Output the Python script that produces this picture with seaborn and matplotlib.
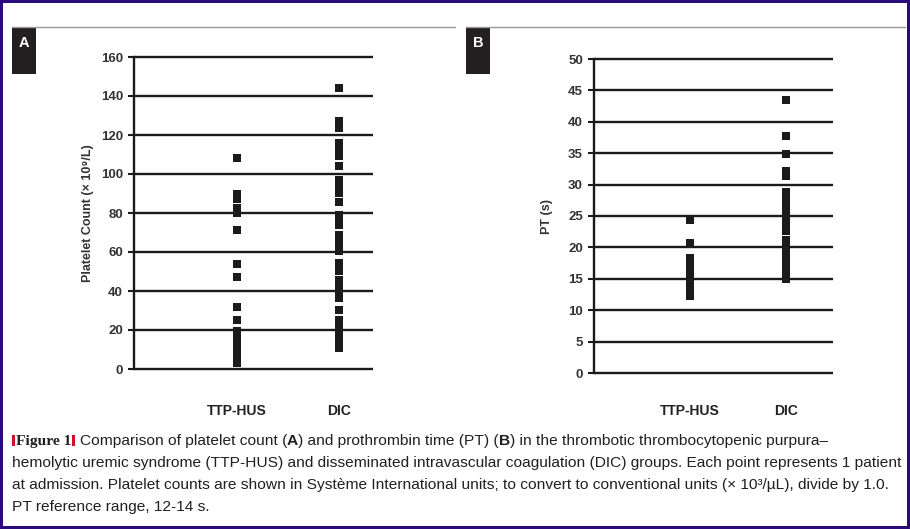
import matplotlib
matplotlib.use("Agg")
import matplotlib.pyplot as plt
from matplotlib.patches import Rectangle
from matplotlib.lines import Line2D
from matplotlib import font_manager
import pandas as pd
import seaborn as sns

# ---------------- data ----------------
groups = ["TTP-HUS", "DIC"]
platelet_ttp = [108, 89.5, 87, 82.5, 80, 71.5, 54, 47, 32, 25,
                19.5, 17, 14, 11, 8, 5, 3]
platelet_dic = [144, 127, 123.5, 115.8, 112.4, 109.1, 104, 96.8, 93.5, 90.2,
                85.5, 79, 76.3, 73.7, 68.6, 64.8, 60.4, 54.3, 50.2, 45.5,
                42.2, 39.6, 36.3, 30.4, 25, 21.7, 18.4, 15.1, 12, 10.7]
pt_ttp = [24.3, 20.7, 18.3, 17.4, 16.5, 15.6, 14.8, 13.9, 13.1, 12.3]
pt_dic = [43.4, 37.8, 34.9, 32.1, 31.4, 28.9, 28.0, 27.1, 26.2, 25.3, 24.5,
          23.6, 22.6, 21.1, 19.9, 18.8, 17.9, 16.9, 16.0, 14.9]
platelet_ticks = [0, 20, 40, 60, 80, 100, 120, 140, 160]
pt_ticks = [0, 5, 10, 15, 20, 25, 30, 35, 40, 45, 50]
ylabel_a = "Platelet Count (× 10⁹/L)"
ylabel_b = "PT (s)"
panel_labels = ["A", "B"]

caption_lines = [
    [("RED", None), ("Figure 1", "fig"), ("RED", None), ("SP", None),
     ("Comparison of platelet count (", "n"), ("A", "b"),
     (") and prothrombin time (PT) (", "n"), ("B", "b"),
     (") in the thrombotic thrombocytopenic purpura–", "n")],
    [("hemolytic uremic syndrome (TTP-HUS) and disseminated intravascular "
      "coagulation (DIC) groups. Each point represents 1 patient", "n")],
    [("at admission. Platelet counts are shown in Système International units; "
      "to convert to conventional units (× 10³/µL), divide by 1.0.", "n")],
    [("PT reference range, 12-14 s.", "n")],
]

# ---------------- style ----------------
plt.rcParams["font.family"] = ["Liberation Sans", "DejaVu Sans"]
W, H = 910, 529
INK = "#1c1a1b"
TXT = "#333333"

fig = plt.figure(figsize=(W / 100, H / 100), dpi=100)
fig.patch.set_facecolor("#2b0a7c")
fig.add_artist(Rectangle((3 / W, 3 / H), (W - 6) / W, (H - 6) / H,
                         transform=fig.transFigure, facecolor="white",
                         edgecolor="none", zorder=0))


def rect(x0, y0, x1, y1):
    return [x0 / W, 1 - y1 / H, (x1 - x0) / W, (y1 - y0) / H]


def panel(ax_box, vals_a, vals_b, ticks, ylabel, xlim, label_x, xpad):
    ax = fig.add_axes(rect(*ax_box))
    ax.set_facecolor("none")
    df = pd.DataFrame({
        "group": [groups[0]] * len(vals_a) + [groups[1]] * len(vals_b),
        "value": list(vals_a) + list(vals_b),
    })
    sns.stripplot(data=df, x="group", y="value", order=groups, jitter=False,
                  marker="s", size=5.2, color=INK, linewidth=0, ax=ax,
                  zorder=5, clip_on=False)
    ax.set_xlim(*xlim)
    ax.set_ylim(ticks[0], ticks[-1])
    ax.hlines(ticks, xlim[0], xlim[1], colors=INK, linewidth=1.7,
              clip_on=False, zorder=2)
    for s in ["top", "right", "bottom"]:
        ax.spines[s].set_visible(False)
    ax.spines["left"].set_linewidth(1.7)
    ax.spines["left"].set_color(INK)
    ax.set_yticks(ticks)
    ax.set_yticklabels([str(t) for t in ticks], fontweight="bold",
                       fontsize=9.5, color=TXT)
    ax.tick_params(axis="y", length=4, width=1.5, color=INK, pad=4)
    ax.tick_params(axis="x", length=0, pad=xpad)
    ax.set_xticks(range(len(groups)))
    ax.set_xticklabels(groups, fontweight="bold", fontsize=10, color="#222222")
    ax.set_xlabel("")
    ax.set_ylabel(ylabel, fontsize=9, fontweight="bold", color=TXT,
                  va="center")
    ax.yaxis.set_label_coords(label_x, 0.5)
    return ax


panel((134, 57, 373, 369), platelet_ttp, platelet_dic, platelet_ticks,
      ylabel_a, (-1.01, 1.33), (87.5 - 134) / 239, 25)
panel((594, 59, 833, 373), pt_ttp, pt_dic, pt_ticks,
      ylabel_b, (-0.995, 1.49), (547 - 594) / 239, 22)

# top rules and panel tags
for (x0, x1) in [(12, 455), (466, 905)]:
    fig.add_artist(Line2D([x0 / W, x1 / W], [1 - 27 / H] * 2,
                          transform=fig.transFigure, color="#9a9a9a", lw=1))
for lab, x0 in zip(panel_labels, [12, 466]):
    fig.add_artist(Rectangle((x0 / W, 1 - 74 / H), 24 / W, 47 / H,
                             transform=fig.transFigure, facecolor="#231f20",
                             edgecolor="none"))
    fig.text((x0 + 12) / W, 1 - 43 / H, lab, color="white", fontsize=10.5,
             fontweight="bold", ha="center", va="center")

# ---------------- caption ----------------
available = {f.name for f in font_manager.fontManager.ttflist}
cap_family = "Liberation Sans Narrow" if "Liberation Sans Narrow" in available \
    else "Liberation Sans"
renderer = fig.canvas.get_renderer()

widths = []
for li in (1, 2):
    probe = fig.text(0, 0, caption_lines[li][0][0], fontsize=10,
                     family=[cap_family, "DejaVu Sans"])
    widths.append(probe.get_window_extent(renderer).width)
    probe.remove()
cap_size = 10 * 890 / max(widths)

styles = {
    "n": dict(family=[cap_family, "DejaVu Sans"], fontweight="normal"),
    "b": dict(family=["Liberation Sans", "DejaVu Sans"], fontweight="bold"),
    "fig": dict(family=["Liberation Serif", "DejaVu Serif"], fontweight="bold"),
}
baselines = [445, 467, 489, 511]
for line, yb in zip(caption_lines, baselines):
    x = 12
    for text, st in line:
        if text == "RED":
            fig.add_artist(Rectangle((x / W, 1 - (yb + 0.5) / H), 3.2 / W,
                                     11 / H, transform=fig.transFigure,
                                     facecolor="#d0102a", edgecolor="none"))
            x += 4.2
            continue
        if text == "SP":
            x += cap_size * 100 / 72 * 0.25
            continue
        t = fig.text(x / W, 1 - yb / H, text, fontsize=cap_size,
                     color="#231f20", ha="left", va="baseline", **styles[st])
        x += t.get_window_extent(renderer).width

fig.savefig("out.png", dpi=100, facecolor=fig.get_facecolor())
